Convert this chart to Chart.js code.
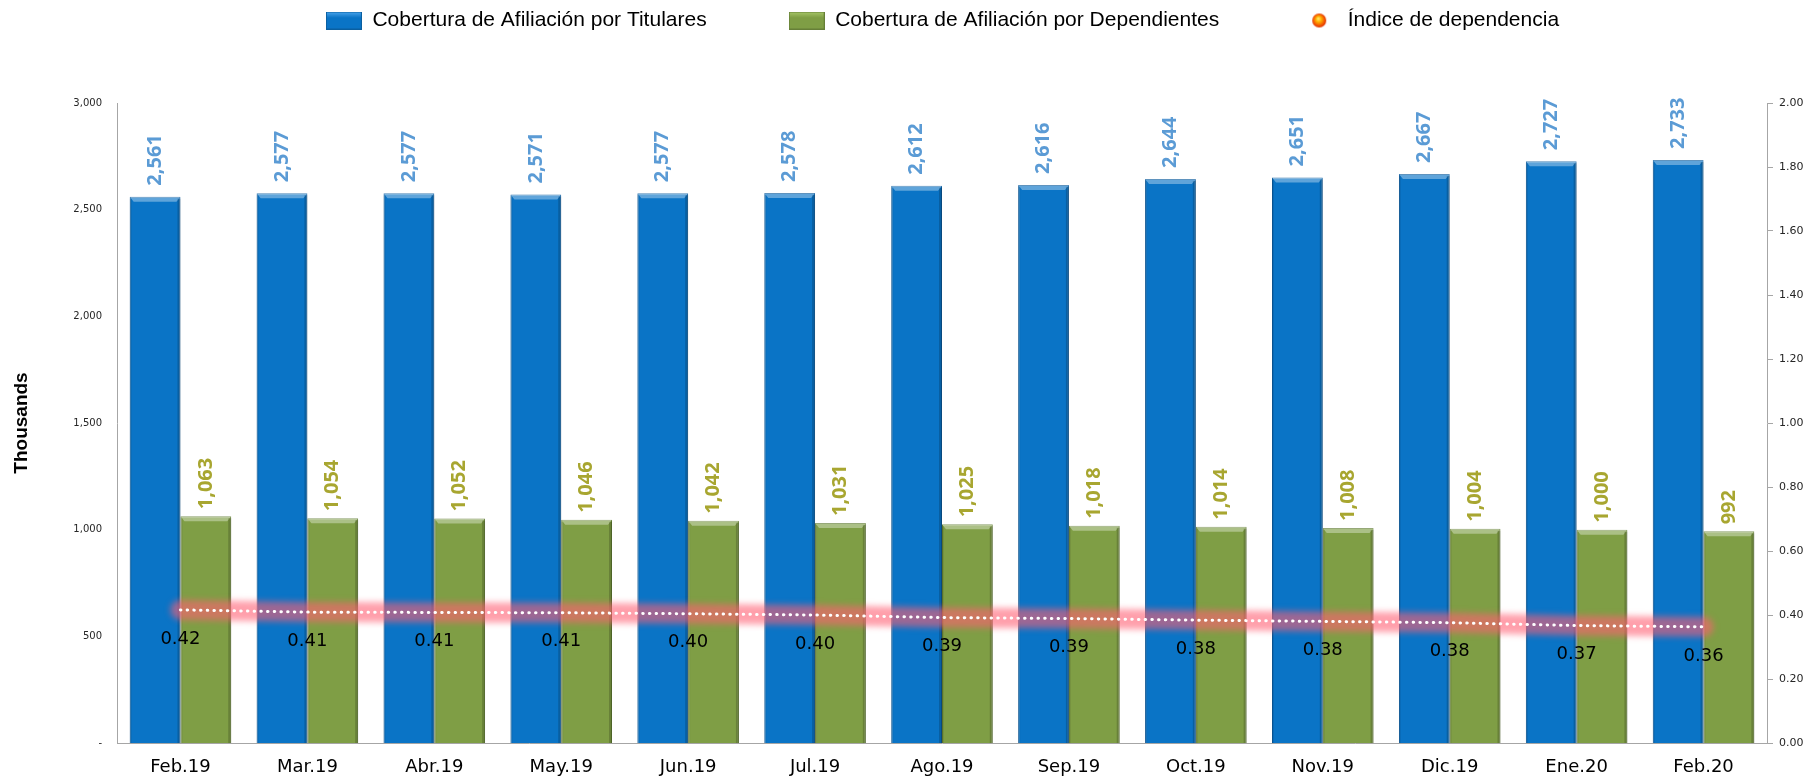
<!DOCTYPE html>
<html>
<head>
<meta charset="utf-8">
<title>Cobertura de Afiliación</title>
<script src="https://cdn.jsdelivr.net/npm/chart.js@4.4.0/dist/chart.umd.min.js"></script>
<style>
  html, body { margin: 0; padding: 0; background: #fff; }
</style>
</head>
<body>
<canvas id="chart" width="1817" height="784"></canvas>
<script>
// Datos (miles de afiliados)
const meses = ['Feb.19', 'Mar.19', 'Abr.19', 'May.19', 'Jun.19', 'Jul.19', 'Ago.19',
               'Sep.19', 'Oct.19', 'Nov.19', 'Dic.19', 'Ene.20', 'Feb.20'];
const titulares = [2561, 2577, 2577, 2571, 2577, 2578, 2612, 2616, 2644, 2651, 2667, 2727, 2733];
const dependientes = [1063, 1054, 1052, 1046, 1042, 1031, 1025, 1018, 1014, 1008, 1004, 1000, 992];
const indice = [0.416, 0.409, 0.408, 0.407, 0.404, 0.400, 0.392, 0.389, 0.384, 0.380, 0.376, 0.367, 0.363];

// Iconos de la leyenda
function legendBox(light, base, edge) {
  const c = document.createElement('canvas');
  c.width = 36; c.height = 18;
  const g = c.getContext('2d');
  const grad = g.createLinearGradient(0, 0, 0, 18);
  grad.addColorStop(0, light);
  grad.addColorStop(0.35, base);
  grad.addColorStop(1, base);
  g.fillStyle = grad;
  g.fillRect(0, 0, 36, 18);
  g.strokeStyle = edge;
  g.strokeRect(0.5, 0.5, 35, 17);
  return c;
}
function legendDot() {
  const c = document.createElement('canvas');
  c.width = 16; c.height = 16;
  const g = c.getContext('2d');
  const grad = g.createRadialGradient(7, 6, 0, 8, 8, 8);
  grad.addColorStop(0, '#FFF27A');
  grad.addColorStop(0.35, '#FFB000');
  grad.addColorStop(0.75, '#F04A00');
  grad.addColorStop(1, '#C82800');
  g.fillStyle = grad;
  g.beginPath();
  g.arc(8, 8, 7, 0, Math.PI * 2);
  g.fill();
  return c;
}
const legendIcons = [
  legendBox('#4FA8EE', '#0A74C6', '#0A5FA0'),
  legendBox('#A9C96A', '#7F9E45', '#667F37'),
  legendDot()
];

// Biselado de las barras
const bevelPlugin = {
  id: 'bevel',
  afterDatasetDraw(chart, args) {
    if (args.meta.type !== 'bar') return;
    const ctx = chart.ctx;
    ctx.save();
    args.meta.data.forEach(bar => {
      const { x, y, base, width } = bar.getProps(['x', 'y', 'base', 'width'], true);
      const l = x - width / 2, r = x + width / 2;
      ctx.fillStyle = 'rgba(255,255,255,0.35)';
      ctx.beginPath();
      ctx.moveTo(l, y); ctx.lineTo(r, y); ctx.lineTo(r - 4, y + 5); ctx.lineTo(l + 4, y + 5);
      ctx.closePath();
      ctx.fill();
      ctx.fillStyle = 'rgba(0,0,0,0.18)';
      ctx.fillRect(r - 3, y + 2, 3, base - y - 2);
      ctx.fillStyle = 'rgba(0,0,0,0.08)';
      ctx.fillRect(l, y + 2, 2, base - y - 2);
    });
    ctx.restore();
  }
};

// Resplandor de la línea del índice
const glowPlugin = {
  id: 'glow',
  beforeDatasetDraw(chart, args) {
    if (args.meta.type !== 'line') return;
    const ctx = chart.ctx;
    const pts = args.meta.data;
    ctx.save();
    ctx.filter = 'blur(3px)';
    ctx.lineCap = 'round';
    ctx.lineJoin = 'round';
    ctx.beginPath();
    pts.forEach((p, i) => i ? ctx.lineTo(p.x, p.y) : ctx.moveTo(p.x, p.y));
    ctx.strokeStyle = 'rgba(255,95,115,0.6)';
    ctx.lineWidth = 20;
    ctx.stroke();
    ctx.restore();
  }
};

// Etiquetas de datos
const labelsPlugin = {
  id: 'dataLabels',
  afterDatasetsDraw(chart) {
    const ctx = chart.ctx;
    chart.data.datasets.forEach((ds, i) => {
      const meta = chart.getDatasetMeta(i);
      ctx.save();
      if (meta.type === 'bar') {
        ctx.font = 'bold 20px "Noto Sans"';
        ctx.fillStyle = ds.labelColor;
        ctx.textAlign = 'left';
        ctx.textBaseline = 'middle';
        meta.data.forEach((bar, j) => {
          ctx.save();
          ctx.translate(bar.x, bar.y - ds.labelGap);
          ctx.rotate(-Math.PI / 2);
          ctx.fillText(ds.data[j].toLocaleString('en-US'), 0, 0);
          ctx.restore();
        });
      } else {
        ctx.font = '18px "DejaVu Sans"';
        ctx.fillStyle = '#000';
        ctx.textAlign = 'center';
        ctx.textBaseline = 'middle';
        meta.data.forEach((pt, j) => {
          ctx.fillText(ds.data[j].toFixed(2), pt.x, pt.y + 29);
        });
      }
      ctx.restore();
    });
  }
};

new Chart(document.getElementById('chart'), {
  data: {
    labels: meses,
    datasets: [{
      type: 'bar',
      label: 'Cobertura de Afiliación por Titulares',
      data: titulares,
      backgroundColor: '#0A74C6',
      borderColor: '#0A5A9C',
      borderWidth: 1,
      barPercentage: 1.0,
      categoryPercentage: 0.8,
      xAxisID: 'x',
      yAxisID: 'y',
      order: 2,
      labelColor: '#5B9BD5',
      labelGap: 11
    }, {
      type: 'bar',
      label: 'Cobertura de Afiliación por Dependientes',
      data: dependientes,
      backgroundColor: '#7F9E45',
      borderColor: '#5F7A30',
      borderWidth: 1,
      barPercentage: 1.0,
      categoryPercentage: 0.8,
      xAxisID: 'x',
      yAxisID: 'y',
      order: 3,
      labelColor: '#A8A630',
      labelGap: 7
    }, {
      type: 'line',
      label: 'Índice de dependencia',
      data: indice,
      borderColor: '#ffffff',
      borderWidth: 3,
      borderDash: [0.5, 6.2],
      borderCapStyle: 'round',
      pointRadius: 0,
      fill: false,
      tension: 0,
      xAxisID: 'x',
      yAxisID: 'y1',
      order: 1
    }]
  },
  options: {
    responsive: false,
    animation: false,
    layout: { padding: { top: -72, right: -68, left: 0, bottom: 0 } },
    plugins: {
      tooltip: { enabled: false },
      legend: {
        position: 'top',
        labels: {
          usePointStyle: true,
          pointStyleWidth: 36,
          boxHeight: 18,
          padding: 82,
          color: '#000',
          font: { family: 'Liberation Sans', size: 21 },
          sort: (a, b) => a.datasetIndex - b.datasetIndex,
          generateLabels(chart) {
            const items = Chart.defaults.plugins.legend.labels.generateLabels(chart);
            items.forEach(it => { it.pointStyle = legendIcons[it.datasetIndex]; });
            return items;
          }
        }
      }
    },
    scales: {
      x: {
        type: 'category',
        position: 'bottom',
        grid: { display: false, drawTicks: false },
        border: { color: '#A6A6A6' },
        ticks: { font: { family: 'DejaVu Sans', size: 18 }, color: '#000', padding: 14 },
        afterFit(s) { s.height = 41; }
      },
      spacer: {
        type: 'category',
        position: 'top',
        grid: { display: false, drawTicks: false },
        border: { display: false },
        ticks: { display: false },
        afterFit(s) { s.height = 62; }
      },
      y: {
        position: 'left',
        min: 0,
        max: 3000,
        grid: { display: false, drawTicks: false },
        border: { color: '#A6A6A6' },
        ticks: {
          stepSize: 500,
          padding: 15,
          color: '#262626',
          font: { family: 'DejaVu Sans', size: 10 },
          callback: v => v === 0 ? '-' : v.toLocaleString('en-US')
        },
        title: {
          display: true,
          text: 'Thousands',
          color: '#000',
          font: { family: 'Liberation Sans', size: 19, weight: 'bold' },
          padding: { top: 10, bottom: 0 }
        },
        afterFit(s) { s.width = 117; }
      },
      y1: {
        position: 'right',
        min: 0,
        max: 2,
        grid: { drawOnChartArea: false, drawTicks: true, tickLength: 6, color: '#A6A6A6' },
        border: { color: '#A6A6A6' },
        ticks: {
          stepSize: 0.2,
          padding: 6,
          color: '#262626',
          font: { family: 'DejaVu Sans', size: 11 },
          callback: v => v.toFixed(2)
        },
        afterFit(s) { s.width = 118; }
      }
    }
  },
  plugins: [bevelPlugin, glowPlugin, labelsPlugin]
});
</script>
</body>
</html>
